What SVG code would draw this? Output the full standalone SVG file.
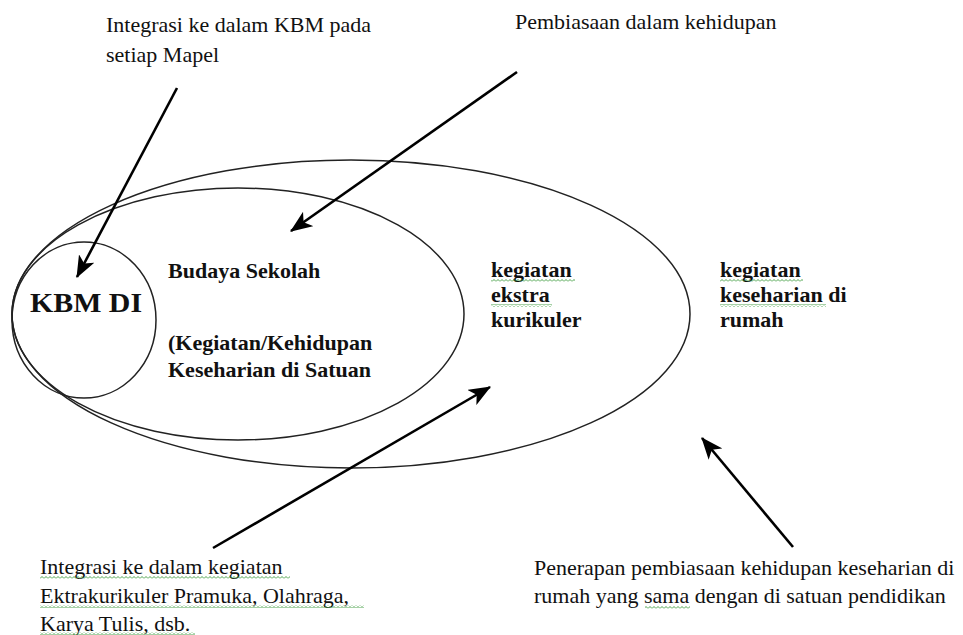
<svg xmlns="http://www.w3.org/2000/svg" width="963" height="635" viewBox="0 0 963 635">
  <style>
    .shape { fill: none; stroke: #222; stroke-width: 1.5; }
    .arrow { stroke: #000; stroke-width: 2.6; fill: none; marker-end: url(#head); }
    .t { font-family: 'Liberation Serif', 'Times New Roman', Times, 'DejaVu Serif', serif; font-size: 22px; fill: #111; }
    .b { font-weight: bold; }
    .sq { fill: url(#wave); }
  </style>
  <defs>
    <marker id="head" viewBox="0 0 20 16" refX="19" refY="8" markerWidth="22" markerHeight="18" markerUnits="userSpaceOnUse" orient="auto">
      <path d="M0,0 L20,8 L0,16 L5,8 z" fill="#000"/>
    </marker>
    <pattern id="wave" width="4" height="3" patternUnits="userSpaceOnUse">
      <path d="M0,2.5 L2,0.5 L4,2.5" fill="none" stroke="#3a9a3a" stroke-width="0.9"/>
    </pattern>
  </defs>
  <rect width="963" height="635" fill="#fff"/>

  <g id="node-rumah">
    <ellipse class="shape" cx="351" cy="314" rx="339" ry="154"/>
    <text class="t b" x="720" y="277" font-family="Liberation Serif">kegiatan</text>
    <text class="t b" x="720" y="302" font-family="Liberation Serif">keseharian di</text>
    <text class="t b" x="720" y="327" font-family="Liberation Serif">rumah</text>
    <rect class="sq" x="720" y="279" width="83" height="3"/>
    <rect class="sq" x="720" y="304" width="106" height="3"/>
  </g>

  <g id="node-ekstra">
    <text class="t b" x="491" y="277" font-family="Liberation Serif">kegiatan</text>
    <text class="t b" x="491" y="302" font-family="Liberation Serif">ekstra</text>
    <text class="t b" x="491" y="327" font-family="Liberation Serif">kurikuler</text>
    <rect class="sq" x="491" y="279" width="84" height="3"/>
    <rect class="sq" x="491" y="304" width="61" height="3"/>
  </g>

  <g id="node-budaya">
    <ellipse class="shape" cx="238" cy="314" rx="226" ry="126"/>
    <text class="t b" x="168" y="278" font-family="Liberation Serif">Budaya Sekolah</text>
    <text class="t b" x="168" y="350" font-family="Liberation Serif">(Kegiatan/Kehidupan</text>
    <text class="t b" x="168" y="377" font-family="Liberation Serif">Keseharian di Satuan</text>
  </g>

  <g id="node-kbm">
    <ellipse class="shape" cx="84" cy="320" rx="72" ry="78"/>
    <text class="t b" x="30" y="312" font-family="Liberation Serif" style="font-size:28px" textLength="112" lengthAdjust="spacingAndGlyphs">KBM DI</text>
  </g>

  <g id="connectors">
    <line class="arrow" x1="177" y1="88" x2="77" y2="277"/>
    <line class="arrow" x1="517" y1="72" x2="291" y2="231"/>
    <line class="arrow" x1="213" y1="548" x2="490" y2="387"/>
    <line class="arrow" x1="793" y1="547" x2="702" y2="438"/>
  </g>

  <g id="label-mapel">
    <text class="t" x="106" y="32" font-family="Liberation Serif">Integrasi ke dalam KBM pada</text>
    <text class="t" x="106" y="62" font-family="Liberation Serif">setiap Mapel</text>
  </g>

  <g id="label-pembiasaan">
    <text class="t" x="515" y="29" font-family="Liberation Serif">Pembiasaan dalam kehidupan</text>
  </g>

  <g id="label-ekstra">
    <text class="t" x="40" y="574" font-family="Liberation Serif">Integrasi ke dalam kegiatan</text>
    <text class="t" x="40" y="603" font-family="Liberation Serif">Ektrakurikuler Pramuka, Olahraga,</text>
    <text class="t" x="40" y="631" font-family="Liberation Serif">Karya Tulis, dsb.</text>
    <rect class="sq" x="40" y="576" width="250" height="3"/>
    <rect class="sq" x="40" y="605" width="324" height="3"/>
    <rect class="sq" x="40" y="632" width="155" height="3"/>
  </g>

  <g id="label-rumah">
    <text class="t" x="534" y="575" font-family="Liberation Serif">Penerapan pembiasaan kehidupan keseharian di</text>
    <text class="t" x="534" y="603" font-family="Liberation Serif">rumah yang sama dengan di satuan pendidikan</text>
    <rect class="sq" x="645" y="606" width="45" height="3"/>
  </g>
</svg>
